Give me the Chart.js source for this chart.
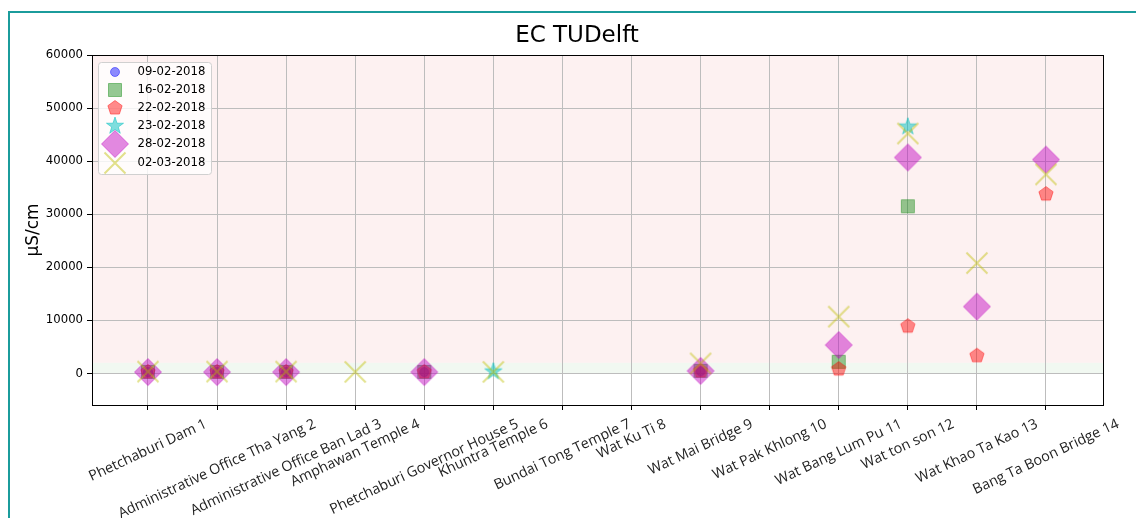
<!DOCTYPE html>
<html>
<head>
<meta charset="utf-8">
<script src="https://cdn.jsdelivr.net/npm/chart.js@4/dist/chart.umd.min.js"></script>
<style>
  html, body { margin: 0; padding: 0; background: #fff; }
  #wrap { position: relative; width: 1136px; height: 518px; overflow: hidden; }
  #frame { position: absolute; left: 8px; top: 11px; width: 1300px; height: 700px;
           border-left: 2px solid #1b9c9c; border-top: 2px solid #1b9c9c; pointer-events: none; }
  canvas { position: absolute; left: 0; top: 0; }
</style>
</head>
<body>
<div id="wrap">
  <canvas id="chart" width="1136" height="518"></canvas>
  <div id="frame"></div>
</div>
<script>
// ---------- Data ----------
const sites = [
  'Phetchaburi Dam 1', 'Administrative Office Tha Yang 2', 'Administrative Office Ban Lad 3',
  'Amphawan Temple 4', 'Phetchaburi Governor House 5', 'Khuntra Temple 6', 'Bundai Tong Temple 7',
  'Wat Ku Ti 8', 'Wat Mai Bridge 9', 'Wat Pak Khlong 10', 'Wat Bang Lum Pu 11', 'Wat ton son 12',
  'Wat Khao Ta Kao 13', 'Bang Ta Boon Bridge 14'
];
const dates = ['09-02-2018', '16-02-2018', '22-02-2018', '23-02-2018', '28-02-2018', '02-03-2018'];

const ec0902 = [250, 250, 250, null, 250, null, null, null, 400, null, null, null, null, null];
const ec1602 = [300, 300, 300, null, 300, null, null, null, 500, null, 2200, 31500, null, null];
const ec2202 = [280, 280, 280, null, 280, null, null, null, 450, null, 830, 8900, 3340, 33800];
const ec2302 = [null, null, null, null, null, 350, null, null, null, null, null, 46500, null, null];
const ec2802 = [260, 260, 260, null, 260, null, null, null, 480, null, 5360, 40700, 12600, 40300];
const ec0203 = [350, 350, 350, 300, null, 300, null, null, 1900, null, 10700, 45200, 20800, 37500];

const yTicks = [0, 10000, 20000, 30000, 40000, 50000, 60000];

// ---------- Markers ----------
function makeMarker(kind, r, rgb, a) {
  const n = Math.ceil(2 * r + 6) + (Math.ceil(2 * r + 6) % 2);
  const c = document.createElement('canvas');
  c.width = n; c.height = n;
  const g = c.getContext('2d');
  const m = n / 2;
  const col = `rgba(${rgb},${a})`;
  g.fillStyle = col; g.strokeStyle = col; g.lineWidth = 1;
  g.beginPath();
  if (kind === 'circle') {
    g.arc(m, m, r, 0, Math.PI * 2);
  } else if (kind === 'square') {
    g.rect(m - r, m - r, 2 * r, 2 * r);
  } else if (kind === 'pentagon' || kind === 'star') {
    const pts = kind === 'star' ? 10 : 5;
    for (let i = 0; i < pts; i++) {
      const ang = -Math.PI / 2 + i * 2 * Math.PI / pts;
      const rr = kind === 'star' && i % 2 ? r * 0.382 : r;
      const px = m + rr * Math.cos(ang), py = m + rr * Math.sin(ang);
      i ? g.lineTo(px, py) : g.moveTo(px, py);
    }
    g.closePath();
  } else if (kind === 'diamond') {
    g.moveTo(m, m - r); g.lineTo(m + r, m); g.lineTo(m, m + r); g.lineTo(m - r, m); g.closePath();
  } else if (kind === 'x') {
    g.moveTo(m - r, m - r); g.lineTo(m + r, m + r);
    g.moveTo(m - r, m + r); g.lineTo(m + r, m - r);
    g.lineWidth = 2;
    g.stroke();
    return c;
  }
  g.fill();
  g.stroke();
  return c;
}

const markers = [
  makeMarker('circle', 4.5, '0,0,255', 0.45),
  makeMarker('square', 6.5, '0,128,0', 0.42),
  makeMarker('pentagon', 7.5, '255,0,0', 0.45),
  makeMarker('star', 9, '0,191,191', 0.5),
  makeMarker('diamond', 13.5, '191,0,191', 0.46),
  makeMarker('x', 10.5, '191,191,0', 0.45)
];
const radii = [4.5, 6.5, 7.5, 9, 13.5, 10.5];
const series = [ec0902, ec1602, ec2202, ec2302, ec2802, ec0203];

const toPoints = vals => vals.map((v, i) => v == null ? null : { x: i + 1, y: v }).filter(p => p);

// ---------- Extra drawing ----------
const decor = {
  id: 'decor',
  beforeDraw(chart) {
    const { ctx, chartArea: a, scales: { y } } = chart;
    ctx.save();
    ctx.fillStyle = '#fff';
    ctx.fillRect(0, 0, chart.width, chart.height);
    const y2k = y.getPixelForValue(2000), y0 = y.getPixelForValue(0);
    ctx.fillStyle = '#fdf1f1';
    ctx.fillRect(a.left, a.top, a.right - a.left, y2k - a.top);
    ctx.fillStyle = '#f1f8f1';
    ctx.fillRect(a.left, y2k, a.right - a.left, y0 - y2k);
    ctx.restore();
  },
  afterDraw(chart) {
    const { ctx, chartArea: a, scales: { x } } = chart;
    ctx.save();
    // axes box
    ctx.strokeStyle = '#000'; ctx.lineWidth = 1;
    ctx.strokeRect(a.left + 0.5, a.top + 0.5, a.right - a.left - 1, a.bottom - a.top);

    // title
    ctx.fillStyle = '#000';
    ctx.font = '23px "DejaVu Sans"';
    ctx.textAlign = 'center'; ctx.textBaseline = 'alphabetic';
    ctx.fillText('EC TUDelft', 577, 42);

    // y label
    ctx.save();
    ctx.translate(34, 230);
    ctx.rotate(-Math.PI / 2);
    ctx.font = '17px "DejaVu Sans"';
    ctx.textBaseline = 'middle';
    ctx.fillText('μS/cm', 0, 0);
    ctx.restore();

    // x tick labels, centred on the tick and rotated
    const ang = 25 * Math.PI / 180;
    ctx.font = '14.3px "Open Sans"';
    ctx.fillStyle = '#222';
    sites.forEach((s, i) => {
      const px = x.getPixelForValue(i + 1);
      const w = ctx.measureText(s).width, h = 16;
      const bh = w * Math.sin(ang) + h * Math.cos(ang);
      ctx.save();
      ctx.translate(px, a.bottom + 11 + bh / 2);
      ctx.rotate(-ang);
      ctx.textAlign = 'center'; ctx.textBaseline = 'middle';
      ctx.fillText(s, 0, 0);
      ctx.restore();
    });

    // legend
    ctx.beginPath();
    ctx.roundRect(98.5, 62.5, 113, 112, 3);
    ctx.fillStyle = 'rgba(255,255,255,0.8)';
    ctx.fill();
    ctx.strokeStyle = '#d0d0d0';
    ctx.stroke();
    ctx.font = '11.7px "DejaVu Sans"';
    ctx.fillStyle = '#000';
    ctx.textAlign = 'left'; ctx.textBaseline = 'middle';
    dates.forEach((d, i) => {
      const cy = Math.round(72 + i * 18.1);
      const mk = markers[i];
      ctx.drawImage(mk, 115 - mk.width / 2, cy - mk.height / 2);
      ctx.fillText(d, 137.5, cy);
    });
    ctx.restore();
  }
};

// ---------- Chart ----------
new Chart(document.getElementById('chart'), {
  type: 'scatter',
  data: {
    datasets: series.map((vals, i) => ({
      label: dates[i],
      data: toPoints(vals),
      pointStyle: markers[i],
      pointRadius: radii[i],
      pointHoverRadius: radii[i],
      order: 6 - i
    }))
  },
  options: {
    responsive: false,
    animation: false,
    events: [],
    layout: { padding: { top: 55, right: 32, bottom: 0, left: 0 } },
    plugins: { legend: { display: false }, tooltip: { enabled: false } },
    scales: {
      x: {
        type: 'linear', min: 0.19, max: 14.84,
        afterBuildTicks: s => { s.ticks = sites.map((_, i) => ({ value: i + 1 })); },
        afterFit: s => { s.height = 113; },
        ticks: { display: false },
        grid: { color: '#bdbdbd', lineWidth: 1, tickColor: '#000', tickLength: 5, drawTicks: true },
        border: { display: false }
      },
      y: {
        min: -5940, max: 60000,
        afterBuildTicks: s => { s.ticks = yTicks.map(v => ({ value: v })); },
        afterFit: s => { s.width = 92; },
        ticks: { color: '#000', padding: 4, font: { family: 'DejaVu Sans', size: 11.7 },
                 callback: v => String(v) },
        grid: { color: '#bdbdbd', lineWidth: 1, tickColor: '#000', tickLength: 5, drawTicks: true },
        border: { display: false }
      }
    }
  },
  plugins: [decor]
});
</script>
</body>
</html>
